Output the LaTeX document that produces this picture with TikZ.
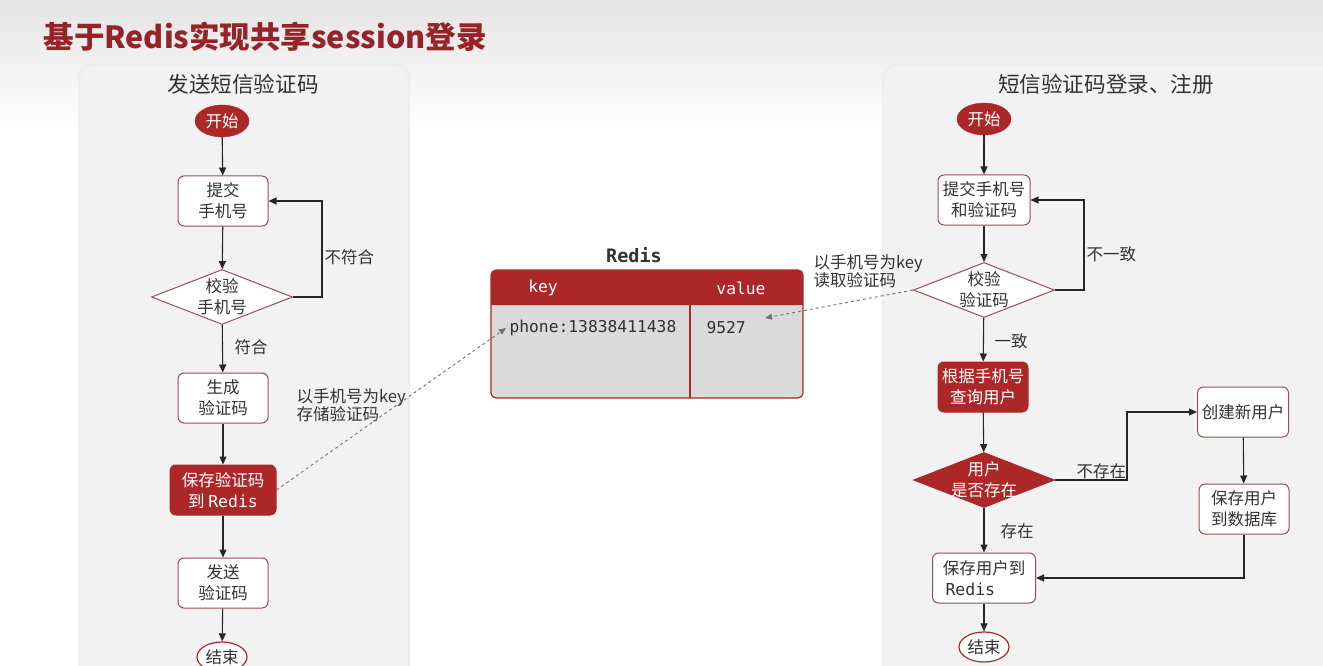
\documentclass[tikz,border=0pt]{standalone}
\usepackage{fontspec}
\setmainfont{Noto Sans CJK SC}
\setmonofont{DejaVu Sans Mono}
\usetikzlibrary{shapes.geometric,arrows.meta}

\definecolor{redfill}{RGB}{172,40,40}
\definecolor{titlered}{RGB}{150,35,40}
\definecolor{boxline}{RGB}{150,80,80}
\definecolor{panel}{RGB}{242,242,242}
\definecolor{tbody}{RGB}{218,218,218}
\definecolor{txtgray}{RGB}{50,50,50}
\definecolor{bgtop}{RGB}{228,228,228}

\tikzset{
  stepbox/.style={draw=boxline, fill=white, rounded corners=6pt, line width=1pt,
    minimum width=90pt, minimum height=50pt, align=center, inner sep=2pt},
  redbox/.style={stepbox, fill=redfill, draw=redfill, text=white},
  checkbox/.style={diamond, aspect=2.5, draw=boxline, fill=white, line width=1pt,
    minimum width=141pt, minimum height=55pt, align=center, inner sep=-8pt},
  startnode/.style={ellipse, fill=redfill, draw=redfill, text=white,
    minimum width=54pt, minimum height=32pt, inner sep=0pt},
  endnode/.style={ellipse, fill=white, draw=redfill, line width=1.2pt,
    minimum width=50pt, minimum height=30pt, inner sep=0pt},
  flow/.style={-{Triangle[length=8pt,width=7pt]}, line width=1.1pt, draw=black!85},
  dashflow/.style={-{Triangle[length=7pt,width=6pt]}, dashed, line width=0.9pt, draw=black!55},
  mono/.style={font=\ttfamily\fontsize{16.3}{19}\selectfont}
}

\begin{document}
\begin{tikzpicture}[x=1pt,y=-1pt,
  every node/.style={font=\fontsize{16.5}{21}\selectfont, text=txtgray}]
  \useasboundingbox (0,0) rectangle (1323,666);
  \clip (0,0) rectangle (1323,666);

  % background and panels
  \shade[top color=bgtop, bottom color=white] (0,0) rectangle (1323,130);
  \fill[white] (0,130) rectangle (1323,666);
  \fill[black!7, rounded corners=14pt] (78,64) rectangle (410,720);
  \fill[panel, rounded corners=14pt] (80,66) rectangle (408,720);
  \fill[black!7, rounded corners=14pt] (882,64) rectangle (1340,720);
  \fill[panel, rounded corners=14pt] (884,66) rectangle (1340,720);

  \node[anchor=west, font=\fontsize{30.5}{33}\selectfont\bfseries, text=titlered] (title) at (40,37)
    {基于Redis实现共享session登录};
  \node[font=\fontsize{21.6}{24}\selectfont] (ltitle) at (243,84) {发送短信验证码};
  \node[font=\fontsize{21.6}{24}\selectfont] (rtitle) at (1106,84) {短信验证码登录、注册};

  % send code
  \node[startnode] (s1) at (222,121) {开始};
  \node[stepbox] (sub1) at (223,201) {提交\\手机号};
  \node[checkbox] (chk1) at (222,297) {校验\\手机号};
  \node[stepbox] (gen) at (223,398) {生成\\验证码};
  \node[redbox, minimum width=106pt] (save) at (223,490) {保存验证码\\到 {\ttfamily Redis}};
  \node[stepbox] (send) at (223,583) {发送\\验证码};
  \node[endnode] (e1) at (222,657) {结束};

  \foreach \from/\to in {s1/sub1, sub1/chk1, chk1/gen, gen/save, save/send, send/e1}
    \draw[flow] (\from) -- (\to);
  \draw[flow] (chk1.east) -- ++(29,0) |- (sub1.east);

  \node[anchor=west] (nomatch) at (321,257) {不符合};
  \node[anchor=west] (match) at (231,347) {符合};
  \node[anchor=west, align=left, font=\fontsize{16.5}{18}\selectfont] (storelbl) at (293,405)
    {以手机号为key\\存储验证码};

  % redis table
  \node[font=\ttfamily\bfseries\fontsize{18.5}{20}\selectfont] (redis) at (634,255) {Redis};
  \fill[tbody, rounded corners=5pt] (491,270) rectangle (803,398);
  \fill[redfill, rounded corners=5pt] (491,270) rectangle (803,305);
  \fill[redfill] (491,292) rectangle (803,305);
  \draw[redfill, line width=1.2pt, rounded corners=5pt] (491,270) rectangle (803,398);
  \draw[redfill, line width=1.2pt] (690,305) -- (690,398);
  \node[mono, text=white] (khead) at (543,288) {key};
  \node[mono, text=white] (vhead) at (741,288) {value};
  \node[mono, anchor=west] (phone) at (506,328) {phone:13838411438};
  \node[mono, anchor=west] (code) at (703,328) {9527};
  \coordinate (valin) at (765,318);

  % login / register
  \node[startnode] (s2) at (984,119) {开始};
  \node[stepbox, minimum width=92pt] (sub2) at (984,200) {提交手机号\\和验证码};
  \node[checkbox] (chk2) at (984,290) {校验\\验证码};
  \node[redbox] (query) at (983,387) {根据手机号\\查询用户};
  \node[checkbox, fill=redfill, draw=redfill, text=white] (exist) at (984,480) {用户\\是否存在};
  \node[stepbox, minimum width=91pt] (create) at (1243,412) {创建新用户};
  \node[stepbox] (savedb) at (1244,509) {保存用户\\到数据库};
  \node[stepbox, minimum width=103pt, align=left] (saveredis) at (984,578) {保存用户到\\\,{\ttfamily Redis}};
  \node[endnode] (e2) at (984,647) {结束};

  \foreach \from/\to in {s2/sub2, sub2/chk2, chk2/query, query/exist, exist/saveredis, saveredis/e2, create/savedb}
    \draw[flow] (\from) -- (\to);
  \draw[flow] (chk2.east) -- ++(29,0) |- (sub2.east);
  \draw[flow] (exist.east) -- ++(72,0) |- (create.west);
  \draw[flow] (savedb.south) |- (saveredis.east);

  \node[anchor=west] (differ) at (1083,254) {不一致};
  \node[anchor=west] (same) at (991,341) {一致};
  \node[anchor=west] (noexist) at (1073,471) {不存在};
  \node[anchor=west] (exists) at (997,531) {存在};
  \node[anchor=west, align=left, font=\fontsize{16.5}{18}\selectfont] (readlbl) at (810,271)
    {以手机号为key\\读取验证码};

  % redis access
  \draw[dashflow] (save.east) -- (phone.west);
  \draw[dashflow] (chk2.west) -- (valin);
\end{tikzpicture}
\end{document}
